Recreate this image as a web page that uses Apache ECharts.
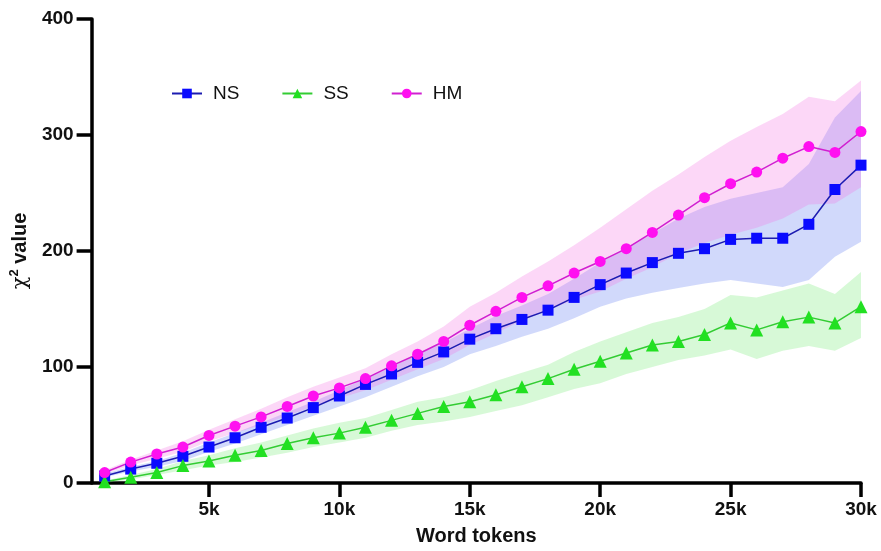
<!DOCTYPE html>
<html>
<head>
<meta charset="utf-8">
<script src="https://cdn.jsdelivr.net/npm/echarts@6/dist/echarts.min.js"></script>
<style>
    html, body { margin: 0; padding: 0; background: #fff; }
    #chart { width: 881px; height: 551px; }
</style>
</head>
<body>
<div id="chart"></div>
<script>
// 横轴：词数（单位 k）
var tokens = [1, 2, 3, 4, 5, 6, 7, 8, 9, 10, 11, 12, 13, 14, 15, 16, 17, 18, 19, 20, 21, 22, 23, 24, 25, 26, 27, 28, 29, 30];
var xTicks = [5, 10, 15, 20, 25, 30];
var yTicks = [0, 100, 200, 300, 400];

// 各组均值
var nsMean = [6, 12, 17, 23, 31, 39, 48, 56, 65, 75, 85, 94, 104, 113, 124, 133, 141, 149, 160, 171, 181, 190, 198, 202, 210, 211, 211, 223, 253, 274];
var ssMean = [1, 5, 9, 15, 19, 24, 28, 34, 39, 43, 48, 54, 60, 66, 70, 76, 83, 90, 98, 105, 112, 119, 122, 128, 138, 132, 139, 143, 138, 152];
var hmMean = [9, 18, 25, 31, 41, 49, 57, 66, 75, 82, 90, 101, 111, 122, 136, 148, 160, 170, 181, 191, 202, 216, 231, 246, 258, 268, 280, 290, 285, 303];

// 置信区间上下限
var nsUpper = [8, 14, 19, 26, 35, 43, 52, 61, 70, 80, 90, 100, 111, 121, 133, 144, 153, 163, 176, 190, 203, 215, 228, 238, 245, 250, 255, 275, 315, 338];
var nsLower = [5, 10, 14, 19, 27, 34, 42, 50, 58, 66, 74, 83, 92, 100, 111, 118, 126, 133, 142, 152, 159, 164, 168, 172, 175, 172, 169, 175, 195, 208];
var ssUpper = [2, 7, 12, 19, 24, 30, 35, 41, 47, 52, 56, 63, 70, 74, 80, 88, 95, 102, 113, 122, 130, 138, 143, 150, 162, 160, 166, 172, 163, 182];
var ssLower = [0, 3, 7, 11, 15, 18, 22, 26, 31, 35, 39, 45, 50, 53, 57, 62, 67, 74, 81, 86, 94, 100, 106, 110, 115, 107, 114, 118, 114, 125];
var hmUpper = [11, 20, 28, 36, 46, 55, 64, 74, 83, 91, 99, 111, 122, 135, 152, 164, 178, 191, 205, 220, 236, 252, 266, 281, 295, 307, 318, 333, 329, 347];
var hmLower = [8, 15, 21, 27, 36, 43, 50, 58, 66, 73, 80, 89, 98, 107, 119, 129, 140, 149, 158, 165, 176, 186, 198, 207, 214, 220, 228, 240, 241, 255];

(function () {
    var font = '"Liberation Sans", Arial, Helvetica, sans-serif';

    function pairs(values) {
        return tokens.map(function (t, i) { return [t * 1000, values[i]]; });
    }

    // 阴影带：用 custom 系列画一个多边形（上限正向 + 下限反向）
    function band(name, upper, lower, color) {
        var rows = tokens.map(function (t, i) { return [t * 1000, lower[i], upper[i]]; });
        return {
            name: name, type: 'custom', data: rows, silent: true, z: 1,
            encode: { x: 0, y: [1, 2] },
            renderItem: function (params, api) {
                if (params.dataIndex !== 0) {
                    return null;
                }
                var pts = [];
                rows.forEach(function (r) { pts.push(api.coord([r[0], r[2]])); });
                rows.slice().reverse().forEach(function (r) { pts.push(api.coord([r[0], r[1]])); });
                return {
                    type: 'polygon',
                    shape: { points: pts },
                    style: { fill: color, stroke: null }
                };
            }
        };
    }

    function meanLine(name, values, symbol, size, markColor, lineColor) {
        return {
            name: name, type: 'line', data: pairs(values),
            symbol: symbol, symbolSize: size,
            itemStyle: { color: markColor },
            lineStyle: { color: lineColor, width: 1.5 },
            z: 5
        };
    }

    var series = [
        band('SSband', ssUpper, ssLower, 'rgba(110, 235, 110, 0.28)'),
        band('NSband', nsUpper, nsLower, 'rgba(90, 120, 240, 0.28)'),
        band('HMband', hmUpper, hmLower, 'rgba(245, 110, 225, 0.28)'),
        meanLine('NS', nsMean, 'rect', 11, '#0a0aff', '#1c1cb0'),
        meanLine('SS', ssMean, 'triangle', 13, '#22e022', '#33cc33'),
        meanLine('HM', hmMean, 'circle', 11, '#ff10f0', '#d020d0')
    ];

    var option = {
        animation: false,
        backgroundColor: '#fff',
        grid: { left: 90, right: 20, top: 19, bottom: 68, containLabel: false },
        legend: {
            data: ['NS', 'SS', 'HM'],
            left: 166, top: 79,
            itemWidth: 30, itemHeight: 12, itemGap: 42,
            textStyle: { fontFamily: font, fontSize: 19, color: '#111', padding: [0, 0, 0, 6] }
        },
        xAxis: {
            type: 'value', min: 500, max: 30000,
            name: 'Word tokens', nameLocation: 'middle', nameGap: 43,
            nameTextStyle: { fontFamily: font, fontSize: 20, fontWeight: 'bold', color: '#111' },
            axisLine: { lineStyle: { color: '#000', width: 3.5 } },
            axisTick: {
                length: 14, lineStyle: { color: '#000', width: 3.5 },
                customValues: xTicks.map(function (v) { return v * 1000; })
            },
            axisLabel: {
                margin: 17, fontFamily: font, fontSize: 19, fontWeight: 'bold', color: '#111',
                customValues: xTicks.map(function (v) { return v * 1000; }),
                formatter: function (v) { return (v / 1000) + 'k'; }
            },
            splitLine: { show: false }
        },
        yAxis: {
            type: 'value', min: yTicks[0], max: yTicks[yTicks.length - 1], interval: 100,
            name: '{chi|χ}{sup|2}{txt| value}', nameLocation: 'middle', nameGap: 54, nameRotate: 90,
            nameTextStyle: {
                rich: {
                    chi: { fontFamily: '"DejaVu Serif", serif', fontSize: 21, color: '#111' },
                    sup: { fontFamily: font, fontSize: 13, fontWeight: 'bold', color: '#111', padding: [0, 0, 12, 0] },
                    txt: { fontFamily: font, fontSize: 20, fontWeight: 'bold', color: '#111' }
                }
            },
            axisLine: { show: true, lineStyle: { color: '#000', width: 3.5 } },
            axisTick: { show: true, length: 15, lineStyle: { color: '#000', width: 3.5 } },
            axisLabel: { margin: 18, fontFamily: font, fontSize: 19, fontWeight: 'bold', color: '#111' },
            splitLine: { show: false }
        },
        series: series
    };

    var myechart = echarts.init(document.getElementById('chart'));
    myechart.setOption(option);
})();
</script>
</body>
</html>
